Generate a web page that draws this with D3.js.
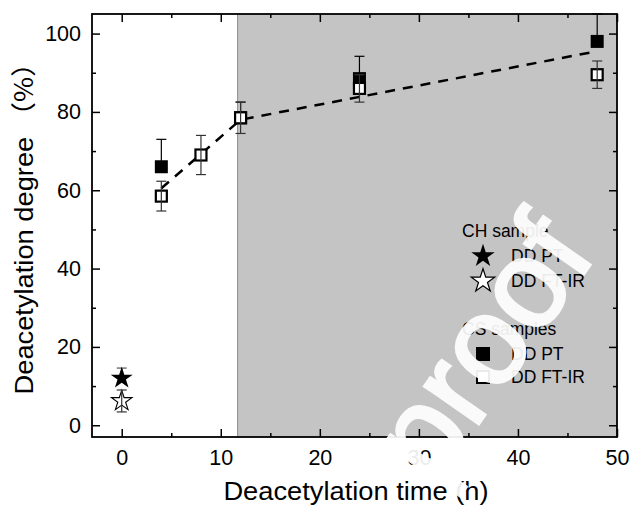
<!DOCTYPE html>
<html>
<head>
<meta charset="utf-8">
<script src="https://cdn.jsdelivr.net/npm/d3@7"></script>
<style>
  body { margin: 0; background: #fff; }
  svg { display: block; font-family: Arial, "Liberation Sans", sans-serif; }
</style>
</head>
<body>
<div id="chart"></div>
<script>
// CS samples, deacetylation degree by potentiometric titration (PT) and FT-IR
const csTimes = [4, 8, 12, 24, 48];
const csPT = [66, null, 78.5, 88.5, 98];
const csPTErr = [7, null, 4, 5.7, 7];
const csIR = [58.5, 69, 78.5, 86, 89.5];
const csIRErr = [3.8, 5, 4, 3.5, 3.5];

// CH sample (time 0)
const chTime = [0];
const chPT = [12];
const chPTErr = [2.6];
const chIR = [6.2];
const chIRErr = [2.8];

// dashed trend lines
const fitX = [4, 12, 48];
const fitY = [60.5, 78, 95.5];

const shadeStart = 11.7;
const xTicks = [0, 10, 20, 30, 40, 50];
const yTicks = [0, 20, 40, 60, 80, 100];

const W = 630, H = 506;
const m = { left: 92, top: 14, right: 13, bottom: 69 };
const iw = W - m.left - m.right, ih = H - m.top - m.bottom;

const svg = d3.select('#chart').append('svg').attr('width', W).attr('height', H);
const g = svg.append('g').attr('transform', `translate(${m.left},${m.top})`);

const x = d3.scaleLinear().domain([-3, 50]).range([0, iw]);
const y = d3.scaleLinear().domain([-3, 105]).range([ih, 0]);

// grey region
g.append('rect')
  .attr('x', x(shadeStart)).attr('y', 0)
  .attr('width', iw - x(shadeStart)).attr('height', ih)
  .attr('fill', '#c4c4c4');
g.append('line')
  .attr('x1', x(shadeStart)).attr('x2', x(shadeStart))
  .attr('y1', 0).attr('y2', ih)
  .attr('stroke', '#8a8a8a').attr('stroke-width', 1);

// axes (ticks inward, mirrored)
const minorX = [5, 15, 25, 35, 45];
const minorY = [10, 30, 50, 70, 90];

function ticks(axis) {
  axis.selectAll('.domain').remove();
  axis.selectAll('.tick line').attr('stroke', '#000').attr('stroke-width', 1.5);
}

const xb = g.append('g').attr('transform', `translate(0,${ih})`)
  .call(d3.axisBottom(x).tickValues(xTicks).tickSize(-8).tickPadding(13).tickFormat(d3.format('d')));
ticks(xb);
xb.selectAll('text').attr('font-size', 21.5).attr('fill', '#000').attr('font-family', 'Arial, Liberation Sans');
g.append('g').attr('transform', `translate(0,${ih})`)
  .call(d3.axisBottom(x).tickValues(minorX).tickSize(-4).tickFormat(''))
  .call(ticks);
g.append('g').call(d3.axisTop(x).tickValues(xTicks).tickSize(-8).tickFormat('')).call(ticks);
g.append('g').call(d3.axisTop(x).tickValues(minorX).tickSize(-4).tickFormat('')).call(ticks);

const yl = g.append('g')
  .call(d3.axisLeft(y).tickValues(yTicks).tickSize(-8).tickPadding(11).tickFormat(d3.format('d')));
ticks(yl);
yl.selectAll('text').attr('font-size', 21.5).attr('fill', '#000').attr('font-family', 'Arial, Liberation Sans');
g.append('g').call(d3.axisLeft(y).tickValues(minorY).tickSize(-4).tickFormat('')).call(ticks);
g.append('g').attr('transform', `translate(${iw},0)`)
  .call(d3.axisRight(y).tickValues(yTicks).tickSize(-8).tickFormat('')).call(ticks);
g.append('g').attr('transform', `translate(${iw},0)`)
  .call(d3.axisRight(y).tickValues(minorY).tickSize(-4).tickFormat('')).call(ticks);

g.append('rect').attr('width', iw).attr('height', ih)
  .attr('fill', 'none').attr('stroke', '#000').attr('stroke-width', 1.8);

// dashed fit line
g.append('path')
  .datum(fitX.map((d, i) => [d, fitY[i]]))
  .attr('d', d3.line().x(d => x(d[0])).y(d => y(d[1])))
  .attr('fill', 'none').attr('stroke', '#000').attr('stroke-width', 2.5)
  .attr('stroke-dasharray', '10,8');

// error bars
function errBars(xs, ys, es, color, part) {
  const pts = xs.map((d, i) => ({ x: d, y: ys[i], e: es[i] })).filter(d => d.y != null);
  const eg = g.append('g').attr('stroke', color).attr('stroke-width', 1.2);
  pts.forEach(d => {
    const lo = part === 'up' ? d.y : d.y - d.e;
    const hi = Math.min(d.y + d.e, 105);
    eg.append('line').attr('x1', x(d.x)).attr('x2', x(d.x)).attr('y1', y(lo)).attr('y2', y(hi));
    if (d.y + d.e <= 105)
      eg.append('line').attr('x1', x(d.x) - 5).attr('x2', x(d.x) + 5).attr('y1', y(hi)).attr('y2', y(hi));
    if (part !== 'up')
      eg.append('line').attr('x1', x(d.x) - 5).attr('x2', x(d.x) + 5).attr('y1', y(lo)).attr('y2', y(lo));
  });
}

const sq = 13;
const star = d3.symbol().type(d3.symbolStar);

// CS PT filled squares
errBars(csTimes, csPT, csPTErr, '#000', 'up');
g.append('g').selectAll('rect')
  .data(csTimes.map((d, i) => ({ x: d, y: csPT[i] })).filter(d => d.y != null))
  .join('rect')
  .attr('x', d => x(d.x) - sq / 2).attr('y', d => y(d.y) - sq / 2)
  .attr('width', sq).attr('height', sq).attr('fill', '#000');

// CS FT-IR open squares
g.append('g').selectAll('rect')
  .data(csTimes.map((d, i) => ({ x: d, y: csIR[i] })))
  .join('rect')
  .attr('x', d => x(d.x) - (sq - 2) / 2).attr('y', d => y(d.y) - (sq - 2) / 2)
  .attr('width', sq - 2).attr('height', sq - 2)
  .attr('fill', '#fff').attr('stroke', '#000').attr('stroke-width', 2.2);
errBars(csTimes, csIR, csIRErr, '#333', 'both');

// CH stars
errBars(chTime, chPT, chPTErr, '#555', 'up');
g.append('g').selectAll('path')
  .data(chTime.map((d, i) => ({ x: d, y: chPT[i] })))
  .join('path')
  .attr('transform', d => `translate(${x(d.x)},${y(d.y)})`)
  .attr('d', star.size(150)).attr('fill', '#000');
g.append('g').selectAll('path')
  .data(chTime.map((d, i) => ({ x: d, y: chIR[i] })))
  .join('path')
  .attr('transform', d => `translate(${x(d.x)},${y(d.y)})`)
  .attr('d', star.size(130)).attr('fill', '#fff').attr('stroke', '#000').attr('stroke-width', 1.1);
errBars(chTime, chIR, chIRErr, '#333', 'both');

// legend
const lg = svg.append('g').attr('font-size', 17.5).attr('fill', '#000');
lg.append('text').attr('x', 462).attr('y', 237).text('CH sample');
lg.append('path').attr('transform', 'translate(483,256)').attr('d', star.size(170)).attr('fill', '#000');
lg.append('text').attr('x', 511).attr('y', 262).text('DD PT');
lg.append('path').attr('transform', 'translate(483,281)').attr('d', star.size(170))
  .attr('fill', '#fff').attr('stroke', '#000').attr('stroke-width', 1.2);
lg.append('text').attr('x', 511).attr('y', 287).text('DD FT-IR');
lg.append('text').attr('x', 462).attr('y', 335).text('CS samples');
lg.append('rect').attr('x', 476).attr('y', 347).attr('width', 14).attr('height', 14).attr('fill', '#000');
lg.append('text').attr('x', 511).attr('y', 360).text('DD PT');
lg.append('rect').attr('x', 477).attr('y', 371).attr('width', 12).attr('height', 12)
  .attr('fill', '#fff').attr('stroke', '#000').attr('stroke-width', 2);
lg.append('text').attr('x', 511).attr('y', 383).text('DD FT-IR');

// axis titles
svg.append('text')
  .attr('transform', 'translate(356,500) scale(1.07,1)')
  .attr('text-anchor', 'middle').attr('font-size', 25.5).attr('fill', '#000')
  .text('Deacetylation time (h)');
const yt = svg.append('text')
  .attr('transform', 'translate(33,222) rotate(-90) scale(1.07,1)')
  .attr('text-anchor', 'middle').attr('font-size', 25.5).attr('fill', '#000');
yt.append('tspan').text('Deacetylation degree ');
yt.append('tspan').attr('font-family', 'Noto Sans CJK SC').text('（%）');

// watermark
svg.append('text')
  .attr('transform', 'translate(434,488) rotate(-55)')
  .attr('font-size', 125)
  .attr('fill', '#fff').attr('stroke', '#fff').attr('stroke-width', 3)
  .attr('opacity', 0.92)
  .text('proof');
</script>
</body>
</html>
